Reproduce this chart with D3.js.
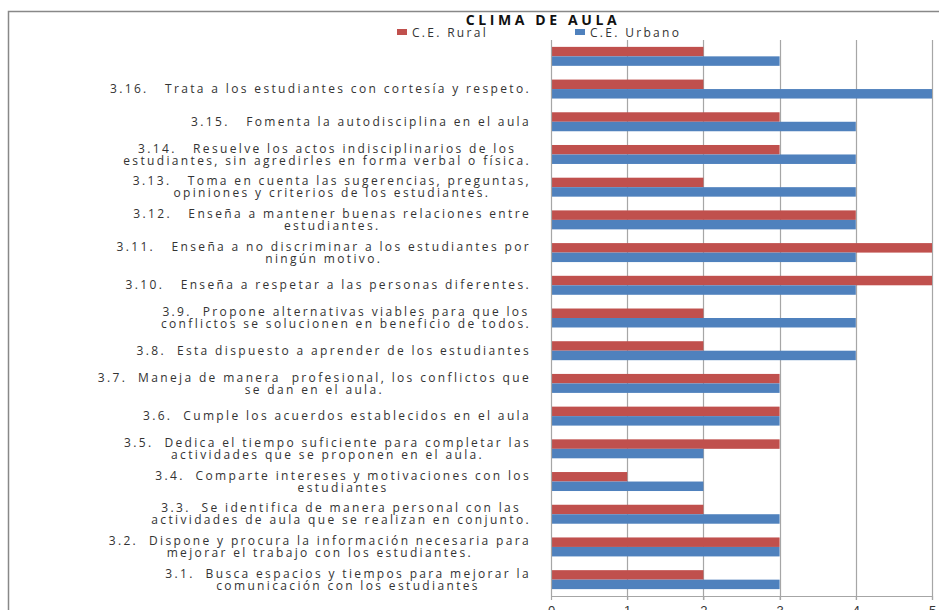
<!DOCTYPE html>
<html>
<head>
<meta charset="utf-8">
<script src="https://cdn.jsdelivr.net/npm/d3@7"></script>
<style>
body { margin:0; background:#fff; overflow:hidden; }
svg { display:block; font-family:"Open Sans", sans-serif; }
text { white-space:pre; }
</style>
</head>
<body>
<svg></svg>
<script>
var screen = {width:939,height:610}
var margins = {top:40,right:7,bottom:14,left:551}

// categories, top to bottom as drawn
var categories = ["3.17","3.16","3.15","3.14","3.13","3.12","3.11","3.10","3.9","3.8","3.7","3.6","3.5","3.4","3.3","3.2","3.1"]
var labels = [
  [""],
  ["3.16.   Trata a los estudiantes con cortesía y respeto."],
  ["3.15.   Fomenta la autodisciplina en el aula"],
  ["3.14.   Resuelve los actos indisciplinarios de los", "estudiantes, sin agredirles en forma verbal o física."],
  ["3.13.   Toma en cuenta las sugerencias, preguntas,", "opiniones y criterios de los estudiantes."],
  ["3.12.   Enseña a mantener buenas relaciones entre", "estudiantes."],
  ["3.11.   Enseña a no discriminar a los estudiantes por", "ningún motivo."],
  ["3.10.   Enseña a respetar a las personas diferentes."],
  ["3.9.  Propone alternativas viables para que los", "conflictos se solucionen en beneficio de todos."],
  ["3.8.  Esta dispuesto a aprender de los estudiantes"],
  ["3.7.  Maneja de manera  profesional, los conflictos que", "se dan en el aula."],
  ["3.6.  Cumple los acuerdos establecidos en el aula"],
  ["3.5.  Dedica el tiempo suficiente para completar las", "actividades que se proponen en el aula."],
  ["3.4.  Comparte intereses y motivaciones con los", "estudiantes"],
  ["3.3.  Se identifica de manera personal con las", "actividades de aula que se realizan en conjunto."],
  ["3.2.  Dispone y procura la información necesaria para", "mejorar el trabajo con los estudiantes."],
  ["3.1.  Busca espacios y tiempos para mejorar la", "comunicación con los estudiantes"]
]
var rural  = [2,2,3,3,2,4,5,5,2,2,3,3,3,1,2,3,2]
var urbano = [3,5,4,4,4,4,4,4,4,4,3,3,2,2,3,3,3]
var seriesNames = ["C.E. Rural","C.E. Urbano"]
var colors = ["#C0504D","#4F81BD"]
var xTicks = [0,1,2,3,4,5]

var svg = d3.select("svg")
  .attr("width",screen.width)
  .attr("height",screen.height)

var width = screen.width - margins.left - margins.right
var height = screen.height - margins.top - margins.bottom

// outer chart frame
svg.append("path")
  .attr("d","M8.5,610 L8.5,11.5 L939,11.5")
  .attr("fill","none")
  .attr("stroke","#888")
  .attr("stroke-width",1.5)

var xScale = d3.scaleLinear().domain([0,5]).range([0,width])
var yScale = d3.scaleBand().domain(categories).range([0,height]).paddingInner(0.42).paddingOuter(0.21)
var ySub = d3.scaleBand().domain([0,1]).range([0,yScale.bandwidth()])

var graph = svg.append("g")
  .attr("id","graph")
  .attr("transform","translate("+margins.left+","+margins.top+")")

// gridlines
graph.append("g")
  .selectAll("line")
  .data(xTicks.slice(1))
  .enter()
  .append("line")
  .attr("x1",function(d){return Math.round(xScale(d))+0.5})
  .attr("x2",function(d){return Math.round(xScale(d))+0.5})
  .attr("y1",0)
  .attr("y2",height+4)
  .attr("stroke","#A6A6A6")
  .attr("stroke-width",1.2)

var data = categories.map(function(c,i){return {cat:c, vals:[rural[i],urbano[i]]}})

var groups = graph.selectAll(".cat")
  .data(data)
  .enter()
  .append("g")
  .attr("class","cat")
  .attr("transform",function(d){return "translate(0,"+yScale(d.cat)+")"})

groups.selectAll("rect")
  .data(function(d){return d.vals})
  .enter()
  .append("rect")
  .attr("x",0)
  .attr("y",function(v,i){return ySub(i)})
  .attr("width",function(v){return xScale(v)})
  .attr("height",ySub.bandwidth())
  .attr("fill",function(v,i){return colors[i]})

// x axis
var xAxis = d3.axisBottom(xScale).tickValues(xTicks).tickSize(4).tickFormat(d3.format("d"))
var gx = graph.append("g")
  .attr("transform","translate(0,"+height+")")
  .call(xAxis)
gx.select(".domain").attr("stroke","#A6A6A6").attr("stroke-width",1.2)
gx.selectAll(".tick line").attr("stroke","#A6A6A6")
gx.selectAll(".tick text").attr("font-size",13).attr("fill","#333").attr("dy","0.9em")

// y axis line
graph.append("line")
  .attr("x1",0.5).attr("x2",0.5)
  .attr("y1",0).attr("y2",height)
  .attr("stroke","#A6A6A6")
  .attr("stroke-width",1.2)

// category labels
var labelRight = -20
var lineH = 12
var lab = graph.selectAll(".lab")
  .data(labels)
  .enter()
  .append("text")
  .attr("class","lab")
  .attr("font-size",12)
  .attr("letter-spacing","2.35px")
  .attr("fill","#333")
  .attr("text-anchor","middle")

lab.each(function(lines,i){
  var t = d3.select(this)
  var cy = yScale(categories[i]) + yScale.bandwidth()/2
  var off = -(lines.length-1)*lineH/2
  lines.forEach(function(l,j){
    t.append("tspan").attr("x",0).attr("y",cy+off+j*lineH).attr("dy","0.35em").text(l)
  })
  var w = this.getBBox().width
  t.selectAll("tspan").attr("x",labelRight - w/2)
})

// title
svg.append("text")
  .attr("x",543)
  .attr("y",25)
  .attr("text-anchor","middle")
  .attr("font-size",14)
  .attr("font-weight","bold")
  .attr("letter-spacing","3.6px")
  .attr("fill","#111")
  .text("CLIMA DE AULA")

// legend
var legendX = [397,575]
var leg = svg.selectAll(".leg")
  .data(seriesNames)
  .enter()
  .append("g")
  .attr("class","leg")
  .attr("transform",function(d,i){return "translate("+legendX[i]+",33)"})
leg.append("rect")
  .attr("x",0).attr("y",-4)
  .attr("width",10).attr("height",6)
  .attr("fill",function(d,i){return colors[i]})
leg.append("text")
  .attr("x",15)
  .attr("y",0)
  .attr("dy","0.35em")
  .attr("font-size",12)
  .attr("letter-spacing","2.3px")
  .attr("fill","#333")
  .text(function(d){return d})
</script>
</body>
</html>
